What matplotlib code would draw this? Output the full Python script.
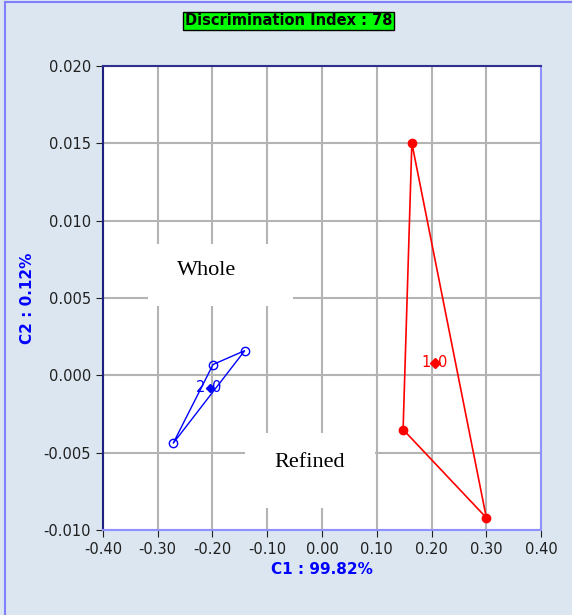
import matplotlib.pyplot as plt
from matplotlib.patches import Rectangle

# group 1 (red, "Refined") and group 2 (blue, "Whole") scores
red_x = [0.164, 0.148, 0.300]
red_y = [0.0150, -0.0035, -0.0092]
red_cx, red_cy = 0.206, 0.0008

blue_x = [-0.141, -0.199, -0.272]
blue_y = [0.0016, 0.0007, -0.0044]
blue_cx, blue_cy = -0.205, -0.0008

xticks = [-0.40, -0.30, -0.20, -0.10, 0.00, 0.10, 0.20, 0.30, 0.40]
yticks = [-0.010, -0.005, 0.000, 0.005, 0.010, 0.015, 0.020]

bg = "#dce6f0"
fig = plt.figure(figsize=(5.72, 6.15), dpi=100)
fig.patch.set_facecolor(bg)

# window frame lines
fig.add_artist(plt.Line2D([5/572, 5/572], [0, 1 - 2/615], color="#8080ff", lw=1.5))
fig.add_artist(plt.Line2D([5/572, 1], [1 - 2/615, 1 - 2/615], color="#8080ff", lw=1.5))

ax = fig.add_axes([0.180, 0.138, 0.766, 0.755])
ax.set_xlim(-0.40, 0.40)
ax.set_ylim(-0.010, 0.020)
ax.set_xticks(xticks)
ax.set_yticks(yticks)
ax.set_xticklabels([f"{v:.2f}" for v in xticks])
ax.set_yticklabels([f"{v:.3f}" for v in yticks])
ax.grid(True, color="#b4b4b4", lw=1.5)
ax.set_axisbelow(True)
ax.tick_params(direction="out", length=5, color="#202020", labelsize=10.5,
               labelcolor="#202020")
for s in ax.spines.values():
    s.set_color("#9090ff")
    s.set_linewidth(1.5)
ax.spines["left"].set_color("#202080")
ax.spines["top"].set_color("#303090")

# white boxes behind labels
ax.add_patch(Rectangle((-0.318, 0.0045), 0.265, 0.0040, facecolor="white",
                       edgecolor="none", zorder=1.5))
ax.add_patch(Rectangle((-0.141, -0.0086), 0.238, 0.0049, facecolor="white",
                       edgecolor="none", zorder=1.5))
ax.text(-0.210, 0.0068, "Whole", family="Liberation Serif", fontsize=16,
        ha="center", va="center", zorder=3)
ax.text(-0.022, -0.0056, "Refined", family="Liberation Serif", fontsize=16,
        ha="center", va="center", zorder=3)

# red hull
ax.fill(red_x, red_y, facecolor="none", edgecolor="red", lw=1.2, zorder=3)
ax.plot(red_x, red_y, "o", color="red", ms=6, ls="none", zorder=4)
ax.plot(red_cx, red_cy, "D", color="red", ms=5, zorder=4)
ax.text(red_cx - 0.008, red_cy, "1", color="red", fontsize=10.5,
        ha="right", va="center", zorder=4)
ax.text(red_cx + 0.006, red_cy, "0", color="red", fontsize=10.5,
        ha="left", va="center", zorder=4)

# blue hull
ax.fill(blue_x, blue_y, facecolor="none", edgecolor="blue", lw=1.0, zorder=3)
ax.plot(blue_x, blue_y, "o", mfc="none", mec="blue", ms=6, ls="none", zorder=4)
ax.plot(blue_cx, blue_cy, "D", color="blue", ms=4, zorder=4)
ax.text(blue_cx - 0.008, blue_cy, "2", color="blue", fontsize=10.5,
        ha="right", va="center", zorder=4)
ax.text(blue_cx + 0.004, blue_cy, "0", color="blue", fontsize=10.5,
        ha="left", va="center", zorder=4)

ax.set_xlabel("C1 : 99.82%", color="blue", fontweight="bold", fontsize=11,
              labelpad=4)
ax.set_ylabel("C2 : 0.12%", color="blue", fontweight="bold", fontsize=11,
              labelpad=6)

fig.text(0.504, 0.966, "Discrimination Index : 78", fontweight="bold",
         fontsize=10.5, ha="center", va="center",
         bbox=dict(boxstyle="square,pad=0.12", facecolor="#00ff00",
                   edgecolor="black", lw=1))

fig.savefig("out.png", dpi=100, facecolor=bg)
